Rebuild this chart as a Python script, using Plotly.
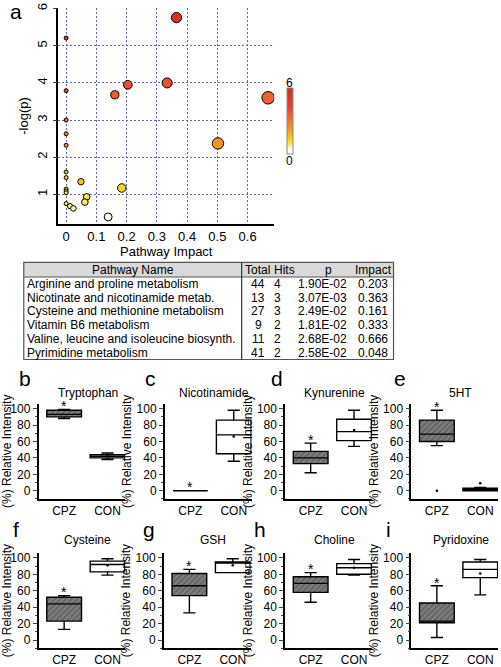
import plotly.graph_objects as go

W, H = 501, 667
FONT = "Arial, Liberation Sans, sans-serif"


def fx(p):
    return p / W


def fy(p):
    return 1 - p / H


# ---------------- Panel a data ----------------
impact = [0, 0, 0, 0, 0, 0, 0, 0, 0, 0, 0, 0.013, 0.024, 0.049, 0.068, 0.062,
          0.139, 0.184, 0.161, 0.204, 0.334, 0.365, 0.502, 0.668]
neglogp = [5.21, 3.79, 3.0, 2.63, 2.32, 1.6, 1.45, 1.14, 1.09, 1.04, 0.75, 0.68, 0.62,
           1.34, 0.93, 0.79, 0.39, 1.17, 3.68, 3.95, 4.0, 5.76, 2.37, 3.6]
impact_ticks = [0, 0.1, 0.2, 0.3, 0.4, 0.5, 0.6]
impact_ticktext = ["0", "0.1", "0.2", "0.3", "0.4", "0.5", "0.6"]
logp_ticks = [1, 2, 3, 4, 5, 6]

# ---------------- Table data ----------------
pathway_names = ["Arginine and proline metabolism", "Nicotinate and nicotinamide metab.",
                 "Cysteine and methionine metabolism", "Vitamin B6 metabolism",
                 "Valine, leucine and isoleucine biosynth.", "Pyrimidine metabolism"]
total_cmpd = [44, 13, 27, 9, 11, 41]
hits = [4, 3, 3, 2, 2, 2]
p_values = [1.90e-02, 3.07e-03, 2.49e-02, 1.81e-02, 2.68e-02, 2.58e-02]
impact_values = [0.203, 0.363, 0.161, 0.333, 0.666, 0.048]
table_header = ["Pathway Name", "Total", "Hits", "p", "Impact"]

# ---------------- Box panel data ----------------
metabolites = ["Tryptophan", "Nicotinamide", "Kynurenine", "5HT",
               "Cysteine", "GSH", "Choline", "Pyridoxine"]
panel_letters = ["b", "c", "d", "e", "f", "g", "h", "i"]
groups = ["CPZ", "CON"]
cpz_lo = [88, 0, 22, 55, 13, 33, 46, 3]
cpz_q1 = [90, 0, 33, 60, 23, 54, 58, 21]
cpz_med = [93, 0, 40, 69, 44, 66, 69, 23]
cpz_q3 = [98, 0, 48, 86, 52, 81, 77, 45]
cpz_hi = [99, 0, 58, 98, 54, 86, 82, 66]
con_lo = [38, 36, 54, 0, 79, 82, 79, 55]
con_q1 = [40, 45, 61, 0, 83, 82, 80, 76]
con_med = [42, 68, 72, 1, 92, 95, 88, 86]
con_q3 = [44, 86, 87, 3, 96, 95, 93, 95]
con_hi = [46, 98, 98, 4, 99, 99, 98, 98]
con_mean = [42, 66, 74, 2, 91, 91, 88, 81]
extra_panel = [3, 3]
extra_group = ["CPZ", "CON"]
extra_value = [0, 9]
intensity_ticks = [0, 20, 40, 60, 80, 100]

fig = go.Figure()

# ---------------- Panel a ----------------
colorscale = [[0, "#ffffff"], [0.08, "#fffbe8"], [0.14, "#fbea50"], [0.22, "#f6d010"],
              [0.35, "#f5a020"], [0.45, "#f38424"], [0.6, "#f06030"], [0.7, "#e8432e"],
              [1, "#d42c2c"]]
sizes = [4 + 10.5 * (v ** 0.5) for v in impact]
fig.add_trace(go.Scatter(
    x=impact, y=neglogp, mode="markers", xaxis="x", yaxis="y", showlegend=False,
    marker=dict(size=sizes, color=neglogp, colorscale=colorscale, cmin=0, cmax=6,
                line=dict(color="black", width=1), opacity=1,
                colorbar=dict(x=fx(284), xanchor="left", y=fy(118.5), yanchor="middle",
                              len=66, lenmode="pixels", thickness=6, thicknessmode="pixels",
                              outlinewidth=1, outlinecolor="#8a8a8a", showticklabels=False,
                              ticks="", xpad=0, ypad=0)),
))

grid = dict(showgrid=True, gridcolor="#5a64b4", gridwidth=1, griddash="2px,2px")
layout = dict(
    width=W, height=H, margin=dict(l=0, r=0, t=0, b=0),
    paper_bgcolor="white", plot_bgcolor="white",
    font=dict(family=FONT, color="black", size=12),
    showlegend=False,
    xaxis=dict(domain=[fx(52), fx(271)], range=[-0.026, 0.688], tickvals=impact_ticks,
               ticktext=impact_ticktext, showline=True, linecolor="black", linewidth=1.5,
               ticks="", zeroline=False, tickfont=dict(size=13),
               title=dict(text="Pathway Impact", font=dict(size=13), standoff=0), **grid),
    yaxis=dict(domain=[fy(223), fy(3)], range=[0.2, 6.02], tickvals=logp_ticks,
               showline=True, linecolor="black", linewidth=1.5, ticks="outside",
               ticklen=4, zeroline=False, tickangle=-90, tickfont=dict(size=13),
               title=dict(text="-log(p)", font=dict(size=13), standoff=4), **grid),
)

annotations = [
    dict(text="a", x=fx(9), y=fy(7), xref="paper", yref="paper", showarrow=False,
         font=dict(size=21), xanchor="center", yanchor="middle"),
    dict(text="6", x=fx(286), y=fy(79), xref="paper", yref="paper", showarrow=False,
         font=dict(size=12), xanchor="center", yanchor="middle"),
    dict(text="0", x=fx(286), y=fy(159), xref="paper", yref="paper", showarrow=False,
         font=dict(size=12), xanchor="center", yanchor="middle"),
]

# ---------------- Table (built from the table arrays) ----------------
T_LEFT, T_RIGHT, T_TOP, T_HEAD, T_BOT = 17, 392, 262, 277, 361
ROW0, ROWH = 284, 14
header_x = [127.5, 254.5, 281, 326, 372]
value_x = [18, 255, 274.5, 320, 371]
for j, h in enumerate(table_header):
    annotations.append(dict(text=h, x=fx(header_x[j]), y=fy(270), xref="paper", yref="paper",
                            showarrow=False, font=dict(size=12), xanchor="center",
                            yanchor="middle"))
columns = [pathway_names, [str(v) for v in total_cmpd], [str(v) for v in hits],
           ["%.2E" % p for p in p_values], ["%.3f" % v for v in impact_values]]
for j, col in enumerate(columns):
    for i, txt in enumerate(col):
        annotations.append(dict(text=txt, x=fx(value_x[j]), y=fy(ROW0 + ROWH * i),
                                xref="paper", yref="paper", showarrow=False,
                                font=dict(size=12), xanchor="left" if j == 0 else "center",
                                yanchor="middle"))

shapes = [
    dict(type="rect", xref="paper", yref="paper", x0=fx(T_LEFT), x1=fx(T_RIGHT),
         y0=fy(T_HEAD), y1=fy(T_TOP), fillcolor="#d9d9d9", line=dict(width=0), layer="below"),
    dict(type="rect", xref="paper", yref="paper", x0=fx(T_LEFT), x1=fx(T_RIGHT),
         y0=fy(T_BOT), y1=fy(T_TOP), line=dict(color="#555555", width=1.2)),
    dict(type="line", xref="paper", yref="paper", x0=fx(T_LEFT), x1=fx(T_RIGHT),
         y0=fy(T_HEAD), y1=fy(T_HEAD), line=dict(color="#555555", width=1)),
    dict(type="line", xref="paper", yref="paper", x0=fx(238), x1=fx(238), y0=fy(T_BOT),
         y1=fy(T_TOP), line=dict(color="#333333", width=1.2)),
]

# ---------------- Box panels ----------------
col_left = [[32, 160, 282, 410], [32, 159, 282, 410]]
row_span = [(406, 503), (558, 655)]
title_y = [395, 545]
letter_pos = [[(18, 380), (146, 380), (274, 380), (399, 380)],
              [(9, 534), (144, 534), (257, 534), (387, 534)]]
PW = 88

for k, name in enumerate(metabolites):
    r, c = divmod(k, 4)
    n = k + 2
    xa, ya = "x%d" % n, "y%d" % n
    left = col_left[r][c]
    top, bot = row_span[r]
    q1 = [cpz_q1[k], con_q1[k]]
    q3 = [cpz_q3[k], con_q3[k]]
    fig.add_trace(go.Bar(
        x=groups, y=[q3[0] - q1[0], q3[1] - q1[1]], base=q1, width=0.8,
        xaxis=xa, yaxis=ya, hoverinfo="skip",
        marker=dict(color=["#848484", "white"], line=dict(width=0),
                    pattern=dict(shape=["/", ""], fgcolor="#1a1a1a", size=4, solidity=0.55)),
    ))
    fig.add_trace(go.Box(
        x=groups, q1=q1, median=[cpz_med[k], con_med[k]], q3=q3,
        lowerfence=[cpz_lo[k], con_lo[k]], upperfence=[cpz_hi[k], con_hi[k]],
        width=0.8, whiskerwidth=0.35, fillcolor="rgba(0,0,0,0)",
        line=dict(color="black", width=1.4), boxpoints=False, xaxis=xa, yaxis=ya,
    ))
    ex = [g for p, g in zip(extra_panel, extra_group) if p == k]
    ey = [v for p, v in zip(extra_panel, extra_value) if p == k]
    fig.add_trace(go.Scatter(
        x=["CON"] + ex, y=[con_mean[k]] + ey, mode="markers", xaxis=xa, yaxis=ya,
        marker=dict(size=2.5, color="black"),
    ))
    layout["xaxis%d" % n] = dict(
        domain=[fx(left), fx(left + PW)], anchor=ya, type="category",
        categoryorder="array", categoryarray=groups, range=[-0.59, 1.41],
        showline=True, linecolor="black", linewidth=1.5, ticks="", showgrid=False,
        zeroline=False, tickfont=dict(size=12))
    layout["yaxis%d" % n] = dict(
        domain=[fy(bot), fy(top)], anchor=xa, range=[-10, 106], tickvals=intensity_ticks,
        showline=True, linecolor="black", linewidth=1.5, ticks="outside", ticklen=4,
        minor=dict(ticks="outside", ticklen=2, dtick=10, tick0=0), showgrid=False,
        zeroline=False, tickfont=dict(size=12),
        title=dict(text="(%) Relative Intensity", font=dict(size=12), standoff=2))
    annotations.append(dict(text=name, x=fx(left + PW / 2 + 6), y=fy(title_y[r]),
                            xref="paper", yref="paper", showarrow=False,
                            font=dict(size=12), xanchor="center", yanchor="middle"))
    lx, ly = letter_pos[r][c]
    annotations.append(dict(text=panel_letters[k], x=fx(lx), y=fy(ly), xref="paper",
                            yref="paper", showarrow=False, font=dict(size=21),
                            xanchor="center", yanchor="middle"))
    annotations.append(dict(text="*", x="CPZ", y=cpz_hi[k] + 4, xref=xa, yref=ya,
                            showarrow=False, font=dict(size=14), xanchor="center",
                            yanchor="middle"))

layout["annotations"] = annotations
layout["shapes"] = shapes
fig.update_layout(**layout)
fig.write_html("out.html", config={"displayModeBar": False},
               post_script="document.body.style.margin='0';document.body.style.padding='0';")
